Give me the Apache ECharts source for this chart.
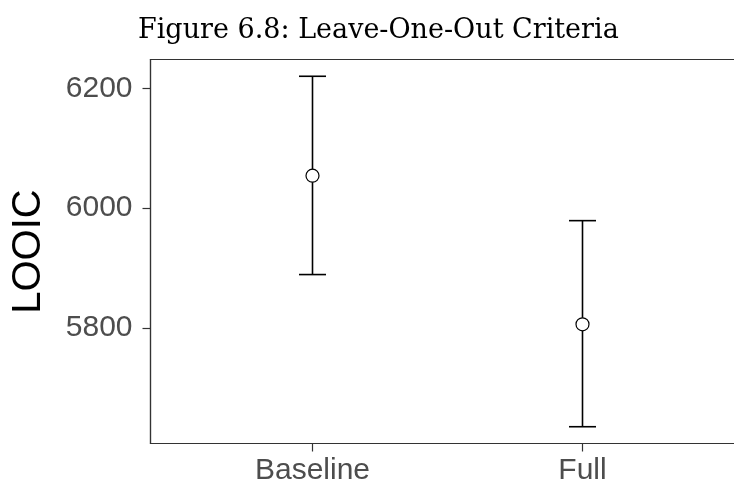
<!DOCTYPE html>
<html>
<head>
<meta charset="utf-8">
<script src="https://cdn.jsdelivr.net/npm/echarts@6/dist/echarts.min.js"></script>
<style>
  html, body { margin: 0; padding: 0; background: #fff; }
  #chart { width: 734px; height: 490px; }
</style>
</head>
<body>
<div id="chart"></div>
<script>
// Model comparison: LOOIC estimate with interval per model
const categories = ['Baseline', 'Full'];
const looic = [6054, 5806];
const lower = [5889, 5635];
const upper = [6220, 5979];
const yTicks = [5800, 6000, 6200];

const positions = categories.map((_, i) => i + 1);
const barData = positions.map((x, i) => [x, lower[i], upper[i]]);
const pointData = positions.map((x, i) => [x, looic[i]]);

const chart = echarts.init(document.getElementById('chart'));
chart.setOption({
  animation: false,
  backgroundColor: '#ffffff',
  title: {
    text: 'Figure 6.8: Leave-One-Out Criteria',
    left: 133,
    top: 12,
    textStyle: {
      fontFamily: 'DejaVu Serif',
      fontWeight: 'normal',
      fontSize: 27,
      color: '#000'
    }
  },
  grid: {
    left: 150.5,
    top: 59.5,
    width: 594,
    height: 384,
    outerBoundsMode: 'none',
    containLabel: false,
    show: true,
    borderColor: '#333333',
    borderWidth: 1.2,
    backgroundColor: '#ffffff'
  },
  xAxis: {
    type: 'value',
    min: 0.4,
    max: 2.6,
    splitLine: { show: false },
    axisLine: { show: true, lineStyle: { color: '#333333', width: 1.2 } },
    axisTick: {
      show: true, length: 8, customValues: positions,
      lineStyle: { color: '#333333', width: 1.2 }
    },
    axisLabel: {
      customValues: positions,
      margin: 12,
      fontFamily: 'Liberation Sans',
      fontSize: 30,
      color: '#4d4d4d',
      formatter: v => categories[Math.round(v) - 1] || ''
    }
  },
  yAxis: {
    type: 'value',
    min: 5607,
    max: 6248,
    name: 'LOOIC',
    nameLocation: 'middle',
    nameGap: 102,
    nameRotate: 90,
    nameTextStyle: {
      fontFamily: 'Liberation Sans',
      fontSize: 40,
      color: '#000'
    },
    splitLine: { show: false },
    axisLine: { show: true, lineStyle: { color: '#333333', width: 1.2 } },
    axisTick: {
      show: true, length: 8, customValues: yTicks,
      lineStyle: { color: '#333333', width: 1.2 }
    },
    axisLabel: {
      customValues: yTicks,
      margin: 18,
      fontFamily: 'Liberation Sans',
      fontSize: 30,
      color: '#4d4d4d',
      formatter: v => String(v)
    }
  },
  series: [
    {
      type: 'custom',
      data: barData,
      encode: { x: 0, y: [1, 2] },
      renderItem: function (params, api) {
        const x = api.value(0);
        const lo = api.coord([x, api.value(1)]);
        const hi = api.coord([x, api.value(2)]);
        const half = api.size([0.1, 0])[0] / 2;
        const style = { stroke: '#000', lineWidth: 1.6, fill: null };
        return {
          type: 'group',
          children: [
            { type: 'line', shape: { x1: hi[0], y1: hi[1], x2: lo[0], y2: lo[1] }, style: style },
            { type: 'line', shape: { x1: hi[0] - half, y1: hi[1], x2: hi[0] + half, y2: hi[1] }, style: style },
            { type: 'line', shape: { x1: lo[0] - half, y1: lo[1], x2: lo[0] + half, y2: lo[1] }, style: style }
          ]
        };
      },
      z: 2
    },
    {
      type: 'scatter',
      data: pointData,
      symbol: 'circle',
      symbolSize: 13,
      itemStyle: { color: '#ffffff', borderColor: '#000000', borderWidth: 1.2, opacity: 1 },
      z: 3
    }
  ]
});
</script>
</body>
</html>
